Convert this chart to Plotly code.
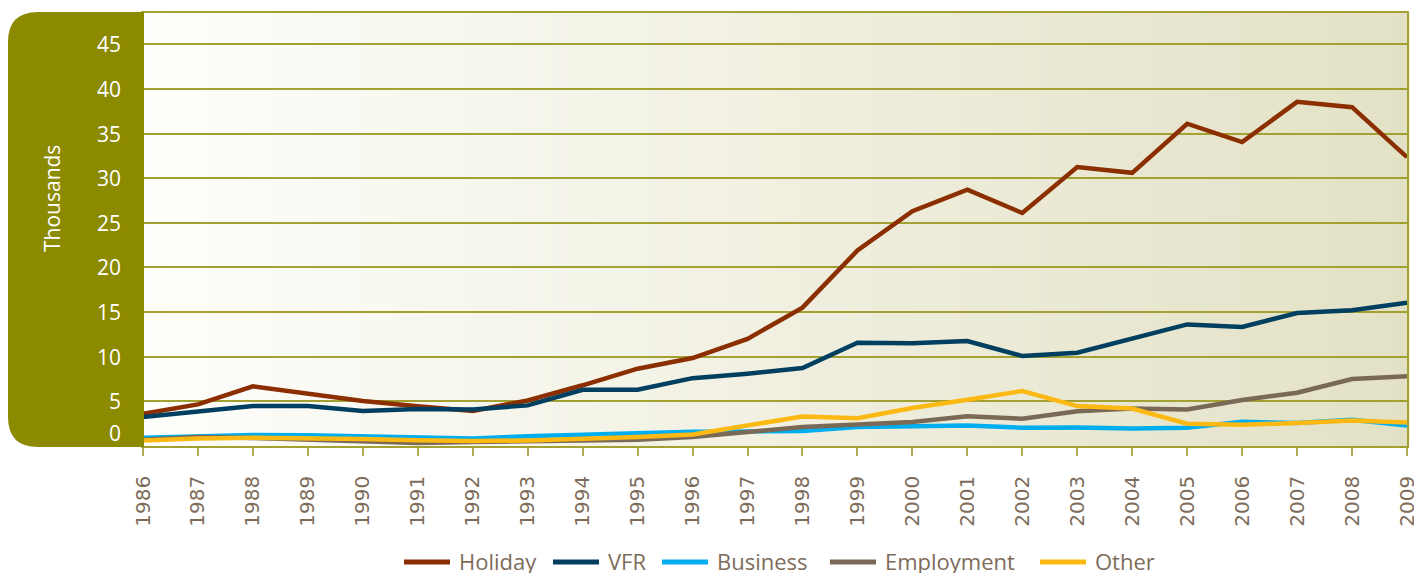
import plotly.graph_objects as go

years = list(range(1986, 2010))
holiday = [3.6, 4.66, 6.68, 5.86, 5.03, 4.44, 3.92, 5.1, 6.8, 8.66, 9.85, 12.0, 15.5,
           21.9, 26.3, 28.7, 26.1, 31.25, 30.6, 36.1, 34.05, 38.55, 37.95, 32.35]
vfr = [3.24, 3.8, 4.47, 4.47, 3.91, 4.14, 4.1, 4.55, 6.3, 6.3, 7.6, 8.1, 8.73,
       11.57, 11.5, 11.76, 10.08, 10.45, 12.0, 13.62, 13.33, 14.9, 15.2, 16.06]
business = [0.93, 1.05, 1.22, 1.2, 1.07, 0.95, 0.85, 1.1, 1.26, 1.45, 1.6, 1.63, 1.67,
            2.12, 2.25, 2.3, 2.05, 2.08, 1.95, 2.05, 2.72, 2.57, 2.95, 2.3]
employment = [0.7, 1.0, 0.9, 0.75, 0.55, 0.35, 0.45, 0.55, 0.65, 0.7, 1.0, 1.56, 2.12,
              2.42, 2.68, 3.32, 3.06, 3.88, 4.2, 4.1, 5.15, 5.97, 7.5, 7.8]
other = [0.63, 0.85, 0.93, 0.88, 0.78, 0.65, 0.55, 0.63, 0.8, 1.0, 1.3, 2.3, 3.3,
         3.1, 4.25, 5.18, 6.15, 4.47, 4.2, 2.5, 2.38, 2.57, 2.87, 2.64]

series_names = ["Holiday", "VFR", "Business", "Employment", "Other"]
series_values = [holiday, vfr, business, employment, other]
series_colors = ["#8B2E00", "#003F5F", "#00AEEF", "#7A6A55", "#FDB913"]

y_ticks = [0, 5, 10, 15, 20, 25, 30, 35, 40, 45]
y_title = "Thousands"

W, H = 1414, 573
ML, MR, MT, MB = 143, 7, 13, 127
PW, PH = W - ML - MR, H - MT - MB
OLIVE = "rgb(140,138,0)"
GRID = "rgb(163,161,50)"
TXT = "rgb(125,108,90)"

# legend layout (pixel left edge of each entry)
LEGEND_X = [404, 553, 662, 830, 1040]
LEGEND_Y = 562


def px2paper(px, py):
    return (px - ML) / PW, (H - MB - py) / PH


fig = go.Figure()
for name, vals, col in zip(series_names, series_values, series_colors):
    fig.add_trace(go.Scatter(x=years, y=vals, name=name, mode="lines",
                             line=dict(color=col, width=4.5), showlegend=False))

shapes = []
# gradient background as stripes
n = 120
c0 = (254, 254, 252)
c1 = (227, 225, 197)
for i in range(n):
    t = (i + 0.5) / n
    c = tuple(round(c0[k] + (c1[k] - c0[k]) * t) for k in range(3))
    shapes.append(dict(type="rect", xref="paper", yref="paper", x0=i / n, x1=(i + 1) / n + 0.002,
                       y0=0, y1=1, fillcolor="rgb(%d,%d,%d)" % c, line=dict(width=0), layer="below"))

# olive rounded box on the left
bx0, bx1, by0, by1, r = 8, 144, 12, 447, 30
pts = [
    ("M", [(bx0 + r, by0)]),
    ("L", [(bx1, by0)]),
    ("L", [(bx1, by1)]),
    ("L", [(bx0 + r, by1)]),
    ("Q", [(bx0, by1), (bx0, by1 - r)]),
    ("L", [(bx0, by0 + r)]),
    ("Q", [(bx0, by0), (bx0 + r, by0)]),
]
path = ""
for cmd, pl in pts:
    path += cmd + " " + " ".join("%.5f,%.5f" % px2paper(*p) for p in pl) + " "
path += "Z"
shapes.append(dict(type="path", xref="paper", yref="paper", path=path,
                   fillcolor=OLIVE, line=dict(width=0), layer="above"))

annotations = []
for v in y_ticks:
    annotations.append(dict(xref="paper", yref="y", x=(123 - ML) / PW, y=v, text=str(v),
                            showarrow=False, xanchor="right", yanchor="middle",
                            yshift=13 if v == 0 else 0,
                            font=dict(family="Open Sans", size=21, color="white")))
ax, ay = px2paper(52, 199)
annotations.append(dict(xref="paper", yref="paper", x=ax, y=ay, text=y_title, textangle=-90,
                        showarrow=False, xanchor="center", yanchor="middle",
                        font=dict(family="Open Sans", size=21, color="white")))

# manual legend
for name, col, lx in zip(series_names, series_colors, LEGEND_X):
    x0, yy = px2paper(lx, LEGEND_Y)
    x1, _ = px2paper(lx + 46, LEGEND_Y)
    shapes.append(dict(type="line", xref="paper", yref="paper", x0=x0, x1=x1, y0=yy, y1=yy,
                       line=dict(color=col, width=5)))
    tx, ty = px2paper(lx + 53, LEGEND_Y - 1)
    annotations.append(dict(xref="paper", yref="paper", x=tx, y=ty, text=name, showarrow=False,
                            xanchor="left", yanchor="middle",
                            font=dict(family="Open Sans", size=22, color=TXT)))

fig.update_layout(
    width=W, height=H,
    margin=dict(l=ML, r=MR, t=MT, b=MB, autoexpand=False),
    paper_bgcolor="white", plot_bgcolor="rgba(0,0,0,0)",
    shapes=shapes, annotations=annotations,
    showlegend=False,
    xaxis=dict(range=[1986, 2009], tickmode="array", tickvals=years, ticktext=[str(y) for y in years],
               tickangle=-90, ticks="outside", ticklen=8, tickwidth=1.5, tickcolor="rgb(175,173,80)",
               showgrid=False, showline=True, linecolor=GRID, linewidth=1.5, mirror=True,
               tickfont=dict(family="DejaVu Sans", size=20, color=TXT), zeroline=False,
               ticklabelstandoff=12, automargin=False, ticklabeloverflow="allow"),
    yaxis=dict(range=[0, 48.5], tickvals=y_ticks, showticklabels=False, showgrid=True,
               gridcolor=GRID, gridwidth=1.5, zeroline=False, showline=True, linecolor=GRID,
               linewidth=1.5, mirror=True, ticks="", automargin=False),
)

fig.write_html("out.html", config={"displayModeBar": False},
               post_script="document.body.style.margin='0';document.body.style.overflow='hidden';")
